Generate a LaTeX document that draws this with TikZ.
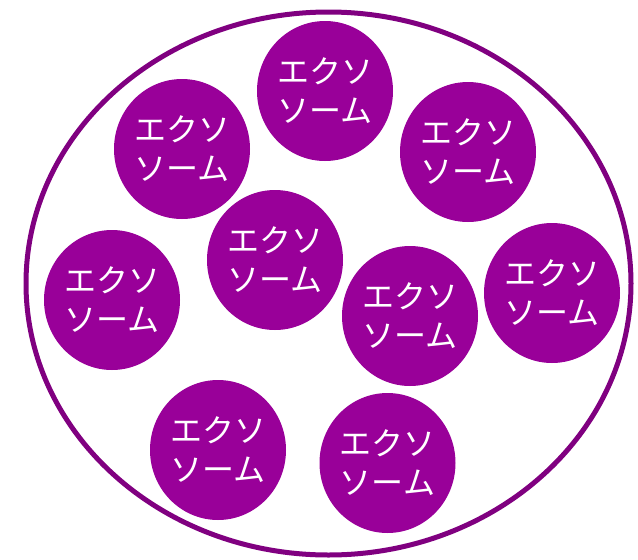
\documentclass[tikz,border=0pt]{standalone}
\usepackage{fontspec}
\usetikzlibrary{shapes.geometric}
\newfontfamily\jpfont{Noto Sans CJK JP}
\definecolor{exofill}{HTML}{990099}
\definecolor{exoline}{HTML}{800080}
\begin{document}
\begin{tikzpicture}[x=1pt,y=-1pt,
  exo/.style={ellipse, fill=exofill, minimum width=136pt, minimum height=140pt, inner sep=0pt,
    text=white, font=\jpfont\fontsize{32}{39}\selectfont, align=center}]
\useasboundingbox (0,0) rectangle (638,560);
\node[draw=exoline, line width=5pt, ellipse, minimum width=605pt, minimum height=543pt, inner sep=0pt] (cell) at (328.5,283.5) {};
\node[exo] (e1) at (325,91) {エクソ\\ソーム};
\node[exo] (e2) at (182,149) {エクソ\\ソーム};
\node[exo] (e3) at (468,152) {エクソ\\ソーム};
\node[exo] (e4) at (275,260) {エクソ\\ソーム};
\node[exo] (e5) at (112,300) {エクソ\\ソーム};
\node[exo] (e6) at (410,316) {エクソ\\ソーム};
\node[exo] (e7) at (552,293) {エクソ\\ソーム};
\node[exo] (e8) at (218,450) {エクソ\\ソーム};
\node[exo] (e9) at (387.5,463) {エクソ\\ソーム};
\end{tikzpicture}
\end{document}
